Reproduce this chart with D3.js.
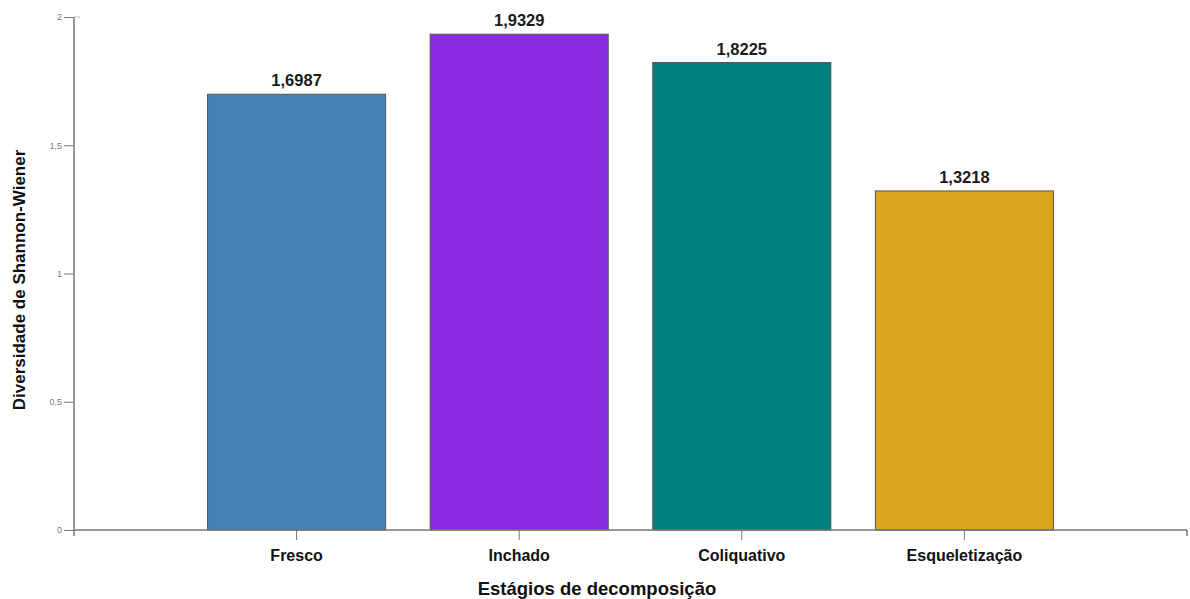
<!DOCTYPE html>
<html><head><meta charset="utf-8">
<script src="https://cdn.jsdelivr.net/npm/d3@7"></script>
<style>body{margin:0;background:#fff;font-family:"Liberation Sans",Arial,sans-serif}</style>
</head><body><svg id="c" width="1190" height="599"></svg>
<script>
const categories = ["Fresco","Inchado","Coliquativo","Esqueletização"];
const values = [1.6987, 1.9329, 1.8225, 1.3218];
const valueLabels = ["1,6987","1,9329","1,8225","1,3218"];
const colors = ["#4682B4","#8A2BE2","#008080","#DAA520"];
const yTicks = [0, 0.5, 1, 1.5, 2];
const yTickLabels = ["0","0,5","1","1,5","2"];

const svg = d3.select("#c");
const x0 = 74, x1 = 1187, yTop = 17, yBot = 530;
const x = d3.scaleBand().domain(categories).range([x0, x1]).paddingInner(0.2).paddingOuter(0.6);
const y = d3.scaleLinear().domain([0, 2]).range([yBot, yTop]);

// bars
svg.selectAll("rect.bar").data(values).enter().append("rect")
  .attr("x",(d,i)=>x(categories[i])).attr("y",d=>y(d))
  .attr("width",x.bandwidth()).attr("height",d=>y(0)-y(d))
  .attr("fill",(d,i)=>colors[i]).attr("stroke","#555").attr("stroke-width",1);

svg.selectAll("text.val").data(values).enter().append("text")
  .attr("x",(d,i)=>x(categories[i])+x.bandwidth()/2).attr("y",d=>y(d)-8)
  .attr("text-anchor","middle").attr("font-weight","bold").attr("font-size",16.5).attr("fill","#1a1a1a")
  .text((d,i)=>valueLabels[i]);

// y axis
const ya = svg.append("g").attr("transform",`translate(${x0},0)`)
  .call(d3.axisLeft(y).tickValues(yTicks).tickFormat((d,i)=>yTickLabels[i]).tickSize(10).tickSizeOuter(0));
ya.select(".domain").remove();
ya.selectAll(".tick line").attr("stroke","#777");
ya.selectAll(".tick text").attr("fill","#777").attr("font-size",9).attr("font-family","Liberation Sans, Arial").attr("x",-12);
svg.append("line").attr("x1",x0).attr("x2",x0).attr("y1",yTop).attr("y2",yBot+6).attr("stroke","#777").attr("stroke-width",1.5);
svg.append("line").attr("x1",x0).attr("x2",x0+6).attr("y1",yTop).attr("y2",yTop).attr("stroke","#bbb");

// x axis
const xa = svg.append("g").attr("transform",`translate(0,${yBot})`)
  .call(d3.axisBottom(x).tickSize(10).tickSizeOuter(0));
xa.select(".domain").remove();
xa.selectAll(".tick line").attr("stroke","#777");
xa.selectAll(".tick text").attr("fill","#111").attr("font-size",16).attr("font-weight","bold")
  .attr("font-family","Liberation Sans, Arial").attr("y",20);
svg.append("line").attr("x1",x0).attr("x2",x1).attr("y1",yBot).attr("y2",yBot).attr("stroke","#777").attr("stroke-width",1.5);
svg.append("line").attr("x1",x1).attr("x2",x1).attr("y1",yBot).attr("y2",yBot+6).attr("stroke","#777").attr("stroke-width",1.5);

// axis titles
svg.append("text").attr("x",597).attr("y",595).attr("text-anchor","middle")
  .attr("font-weight","bold").attr("font-size",18.5).attr("fill","#111").text("Estágios de decomposição");
svg.append("text").attr("transform","translate(25,280) rotate(-90)").attr("text-anchor","middle")
  .attr("font-weight","bold").attr("font-size",17).attr("fill","#111").text("Diversidade de Shannon-Wiener");
</script></body></html>
